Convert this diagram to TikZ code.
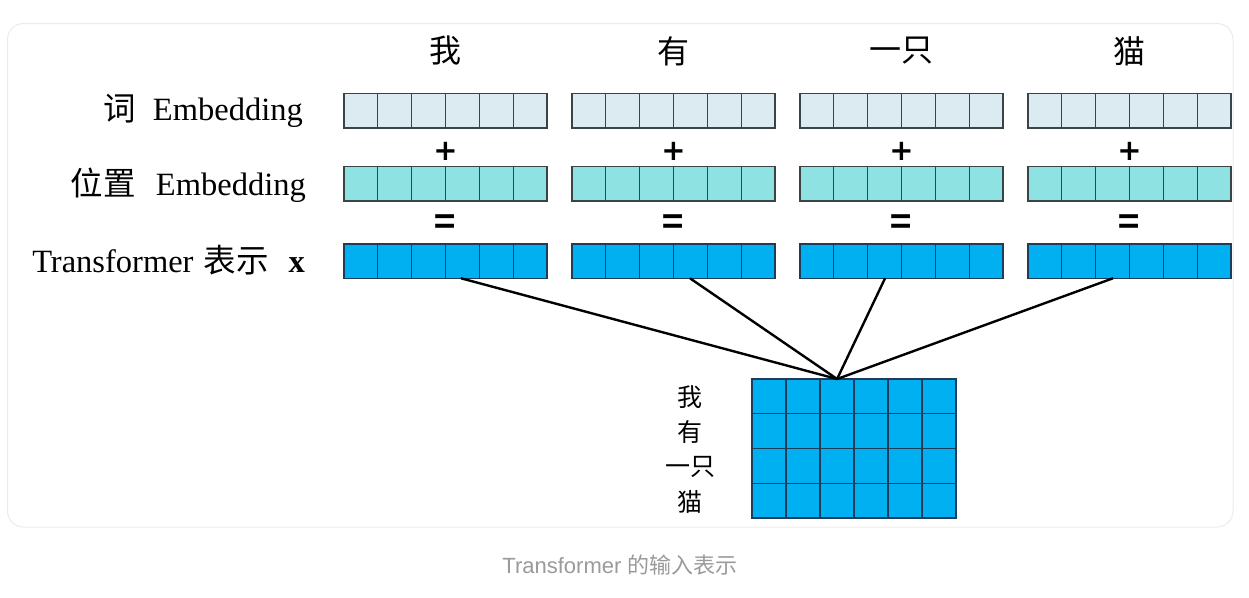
\documentclass[tikz,border=0pt]{standalone}
\usepackage{fontspec}
\usepackage{graphicx}
\setmainfont{Liberation Serif}
\newfontfamily\cjkf{Noto Sans CJK SC}
\newfontfamily\symf{DejaVu Sans}
\newfontfamily\capf{Liberation Sans}
\usetikzlibrary{calc}
\definecolor{wordc}{HTML}{DBEBF1}
\definecolor{posc}{HTML}{8EE2E2}
\definecolor{repc}{HTML}{00B0F0}
\definecolor{edgec}{HTML}{3A4448}
\definecolor{repedge}{HTML}{1E3D5A}
\definecolor{cardc}{HTML}{EBEBEB}
\definecolor{capc}{HTML}{9A9A9A}
\begin{document}
\begin{tikzpicture}[x=1pt,y=-1pt,
  blk/.style={draw=edgec, line width=1.5pt, minimum width=203pt, minimum height=34.5pt, inner sep=0pt, outer sep=0pt},
  cellline/.style={draw=edgec, line width=1.3pt},
  hdr/.style={font=\cjkf\fontsize{32}{36}\selectfont, inner sep=0pt},
  op/.style={font=\symf\bfseries\fontsize{29}{34}\selectfont, inner sep=0pt},
  eqop/.style={font=\symf\fontsize{30}{34}\selectfont, inner sep=0pt},
  lbl/.style={font=\fontsize{32.5}{38}\selectfont, inner sep=0pt, anchor=base east},
  mlab/.style={font=\cjkf\fontsize{25}{30}\selectfont, inner sep=0pt},
  conn/.style={draw=black, line width=2.4pt},
]
\useasboundingbox (0,0) rectangle (1249,597);
\draw[cardc, line width=1pt, rounded corners=16pt] (7.5,23.5) rectangle (1233,527);

\foreach \i/\cx/\w in {1/445.5/我, 2/673.5/有, 3/901.5/一只, 4/1129.5/猫} {
  \node[hdr] (h\i) at (\cx,51) {\w};
  \node[blk, fill=wordc] (w\i) at (\cx,110.5) {};
  \node[op] (p\i) at (\cx,151) {+};
  \node[blk, fill=posc] (q\i) at (\cx,183.5) {};
  \node[eqop] (e\i) at (\cx,226) {\scalebox{1}[1.6]{=}};
  \node[blk, fill=repc, draw=repedge] (r\i) at (\cx,261) {};
  \foreach \n in {w,q} {
    \foreach \k in {1,...,5} {
      \draw[cellline] ($(\n\i.north west)!\k/6!(\n\i.north east)$) -- ($(\n\i.south west)!\k/6!(\n\i.south east)$);
    }
  }
  \foreach \k in {1,...,5} {
    \draw[cellline, draw=repedge] ($(r\i.north west)!\k/6!(r\i.north east)$) -- ($(r\i.south west)!\k/6!(r\i.south east)$);
  }
}

\node[lbl] (l1) at (303,120) {{\cjkf 词}\hspace{17pt}Embedding};
\node[lbl] (l2) at (306,195) {{\cjkf 位置}\hspace{20pt}Embedding};
\node[lbl] (l3) at (305,272) {Transformer\hspace{10pt}{\cjkf 表示}\hspace{20pt}\textbf{x}};

% matrix
\node[draw=repedge, fill=repc, line width=1.5pt, minimum width=204pt, minimum height=139pt, inner sep=0pt, outer sep=0pt] (M) at (854,448.5) {};
\foreach \k in {1,...,5} {
  \draw[cellline, draw=repedge] ($(M.north west)!\k/6!(M.north east)$) -- ($(M.south west)!\k/6!(M.south east)$);
}
\foreach \k in {1,...,3} {
  \draw[cellline, draw=repedge] ($(M.north west)!\k/4!(M.south west)$) -- ($(M.north east)!\k/4!(M.south east)$);
}
\coordinate (c) at ($(M.north west)!0.417!(M.north east)$);

\draw[conn] ($(r1.south west)!0.576!(r1.south east)$) -- (c);
\draw[conn] ($(r2.south west)!0.581!(r2.south east)$) -- (c);
\draw[conn] ($(r3.south west)!0.419!(r3.south east)$) -- (c);
\draw[conn] ($(r4.south west)!0.419!(r4.south east)$) -- (c);

\node[mlab] (m1) at (690,397) {我};
\node[mlab] (m2) at (690,432) {有};
\node[mlab] (m3) at (690,467) {一只};
\node[mlab] (m4) at (690,502) {猫};

\node[text=capc, inner sep=0pt, font=\fontsize{22}{26}\selectfont] (cap) at (620,565) {{\capf Transformer }{\cjkf 的输入表示}};
\end{tikzpicture}
\end{document}
